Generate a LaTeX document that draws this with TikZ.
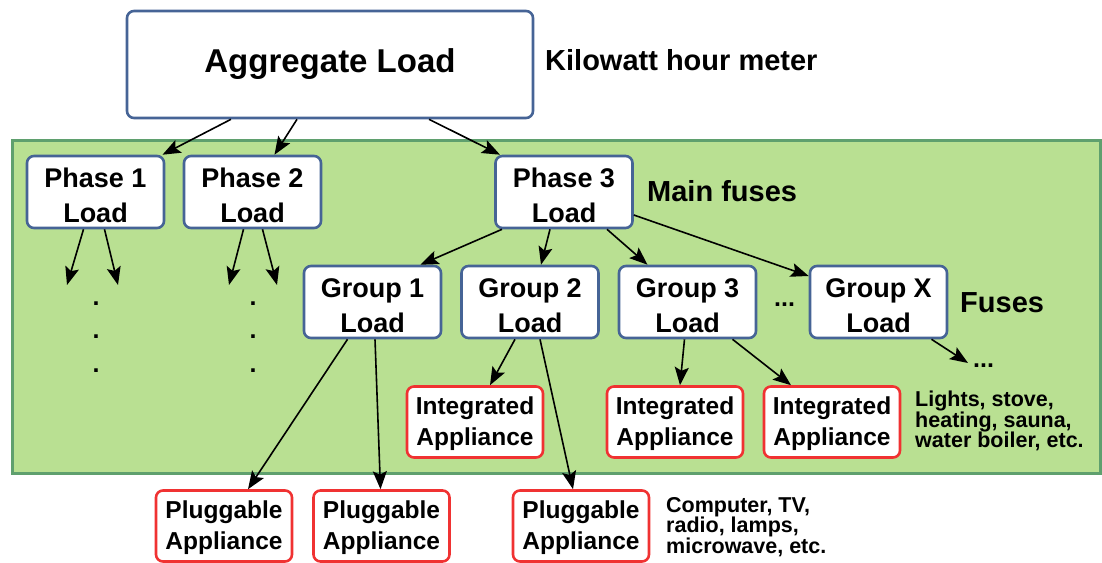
\documentclass[tikz,border=0pt]{standalone}
\usepackage{fontspec}
\setmainfont{Liberation Sans}
\usetikzlibrary{arrows.meta,positioning}
\definecolor{loadblue}{RGB}{70,100,150}
\definecolor{applred}{RGB}{240,50,50}
\definecolor{housegreen}{RGB}{185,224,146}
\definecolor{housedark}{RGB}{95,160,110}
\tikzset{
  load/.style  = {rounded corners=7pt, draw=loadblue, line width=2.6pt, fill=white,
                  align=center, inner sep=0pt, minimum width=137pt, minimum height=72pt,
                  text height=60pt, text depth=0pt,
                  font=\fontsize{27}{35}\selectfont\bfseries},
  appl/.style  = {rounded corners=7pt, draw=applred, line width=2.6pt, fill=white,
                  align=center, inner sep=0pt, minimum width=136pt, minimum height=71pt,
                  text height=52pt, text depth=5pt,
                  font=\fontsize{24.5}{31}\selectfont\bfseries},
  note/.style  = {anchor=west, align=left, inner sep=0pt,
                  font=\fontsize{21.5}{20.5}\selectfont\bfseries},
  tag/.style   = {anchor=west, inner sep=0pt, font=\fontsize{29}{34}\selectfont\bfseries},
  more/.style  = {inner sep=0pt, align=center, font=\fontsize{25}{33.5}\selectfont\bfseries},
  flow/.style  = {-{Stealth[length=18pt,width=14pt,inset=3.5pt]}, line width=1.6pt, draw=black},
}

\begin{document}
\begin{tikzpicture}[x=1pt,y=-1pt]
\useasboundingbox (0,0) rectangle (1102,562);
% house
\fill[housegreen] (12,140) rectangle (1100,473);
\draw[housedark, line width=3pt] (12,140) rectangle (1100,473);

% meter level
\node[load, minimum width=406pt, minimum height=107pt, text height=, text depth=,
      font=\fontsize{33}{38}\selectfont\bfseries] (agg) at (330,64.5) {Aggregate Load};
\node[tag] (meter) at (545,60) {Kilowatt hour meter};

% phases
\node[load] (phase1) at (95.5,192) {Phase 1\\Load};
\node[load] (phase2) at (252.5,192) {Phase 2\\Load};
\node[load] (phase3) at (564,192) {Phase 3\\Load};
\node[tag] (mainfuses) at (647,191) {Main fuses};

% groups
\node[load] (group1) at (372.5,302) {Group 1\\Load};
\node[load] (group2) at (530,302) {Group 2\\Load};
\node[load] (group3) at (687.5,302) {Group 3\\Load};
\node[load] (groupx) at (878.5,302) {Group X\\Load};
\node[more, anchor=base west] (gdots) at (774,306) {...};
\node[tag] (fuses) at (960,303) {Fuses};

% appliances
\node[appl] (int1) at (475,422) {Integrated\\Appliance};
\node[appl] (int2) at (675,422) {Integrated\\Appliance};
\node[appl] (int3) at (832,422) {Integrated\\Appliance};
\node[note] (intnote) at (915,421) {Lights, stove,\\heating, sauna,\\water boiler, etc.};
\node[appl] (plug1) at (224,526) {Pluggable\\Appliance};
\node[appl] (plug2) at (381.5,526) {Pluggable\\Appliance};
\node[appl] (plug3) at (581,526) {Pluggable\\Appliance};
\node[note] (plugnote) at (666,527) {Computer, TV,\\radio, lamps,\\microwave, etc.};

% loose ends
\coordinate (p1a) at (67,285);
\coordinate (p1b) at (118,285);
\coordinate (p2a) at (229,285);
\coordinate (p2b) at (277,285);
\coordinate (gxa) at (968,363);
\node[more] (p1dots) at (96,337) {.\\.\\.};
\node[more] (p2dots) at (253,337) {.\\.\\.};
\node[more, anchor=base west] (gxdots) at (973,367) {...};

% connectors
\draw[flow] ([xshift=-99pt]agg.south) -- ([xshift=67pt]phase1.north);
\draw[flow] ([xshift=-33pt]agg.south) -- ([xshift=22pt]phase2.north);
\draw[flow] ([xshift=99pt]agg.south) -- ([xshift=-64pt]phase3.north);
\draw[flow] ([xshift=-12pt]phase1.south) -- (p1a);
\draw[flow] ([xshift=9pt]phase1.south) -- (p1b);
\draw[flow] ([xshift=-9pt]phase2.south) -- (p2a);
\draw[flow] ([xshift=10pt]phase2.south) -- (p2b);
\draw[flow] ([xshift=-62pt]phase3.south) -- ([xshift=48pt]group1.north);
\draw[flow] ([xshift=-14pt]phase3.south) -- ([xshift=11pt]group2.north);
\draw[flow] ([xshift=43pt]phase3.south) -- ([xshift=-40pt]group3.north);
\draw[flow] ([yshift=-23pt]phase3.east) -- ([yshift=26pt]groupx.west);
\draw[flow] ([xshift=-25pt]group1.south) -- ([xshift=24pt]plug1.north);
\draw[flow] ([xshift=2.5pt]group1.south) -- ([xshift=-1pt]plug2.north);
\draw[flow] ([xshift=-15pt]group2.south) -- ([xshift=15pt]int1.north);
\draw[flow] ([xshift=10pt]group2.south) -- ([xshift=-8pt]plug3.north);
\draw[flow] ([xshift=-3pt]group3.south) -- ([xshift=5pt]int2.north);
\draw[flow] ([xshift=45pt]group3.south) -- ([xshift=-41pt]int3.north);
\draw[flow] ([xshift=53pt]groupx.south) -- (gxa);
\end{tikzpicture}
\end{document}
